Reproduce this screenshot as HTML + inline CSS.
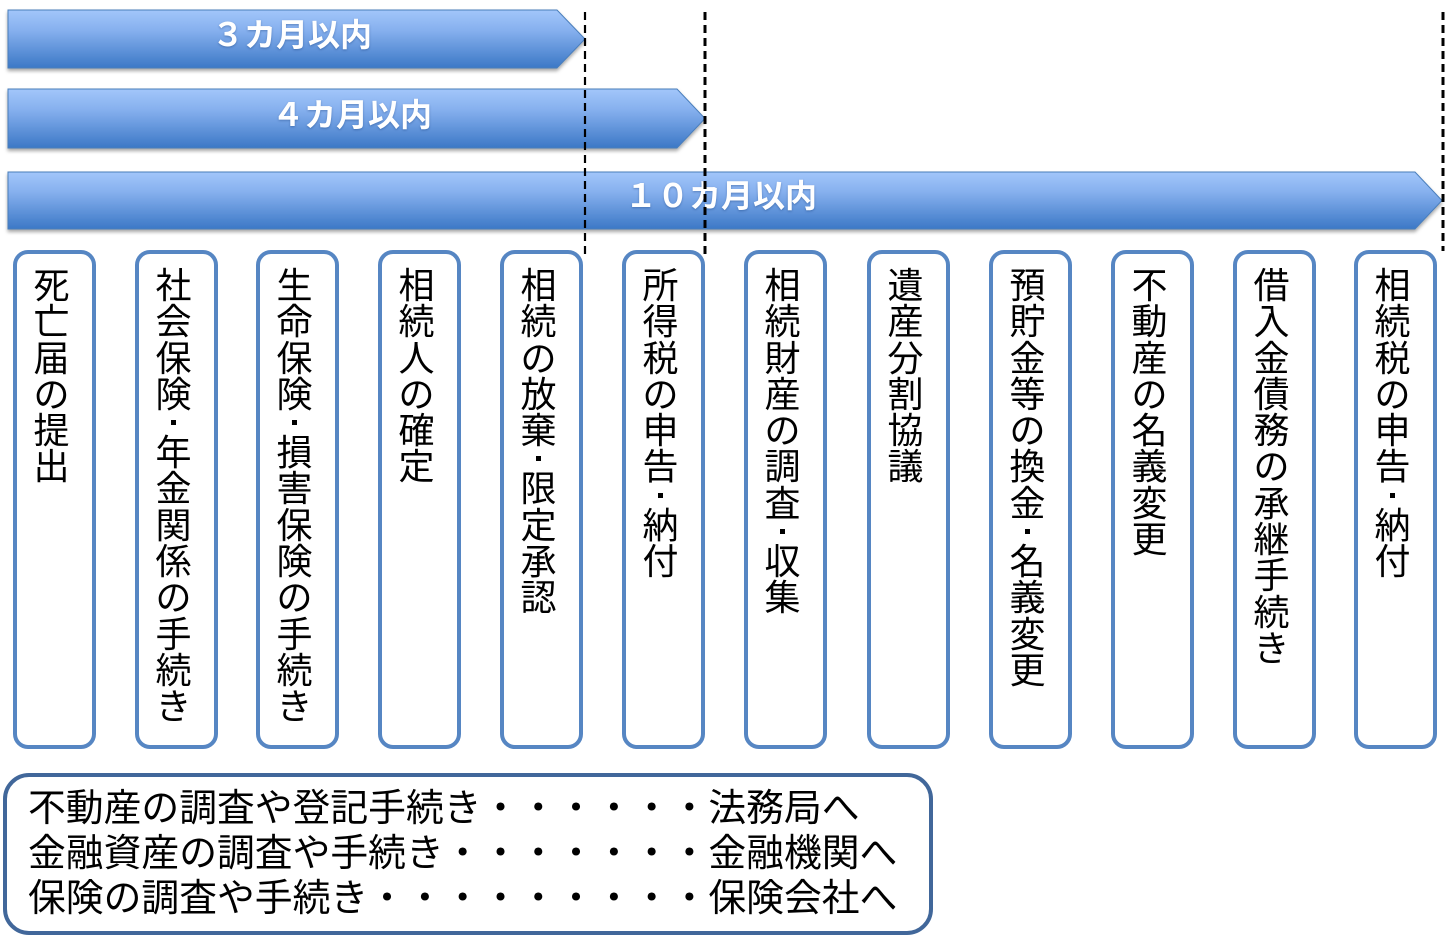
<!DOCTYPE html>
<html>
<head>
<meta charset="utf-8">
<style>
html,body{margin:0;padding:0;background:#fff;}
body{width:1450px;height:943px;position:relative;overflow:hidden;font-family:"Liberation Sans","Noto Sans CJK JP",sans-serif;}
svg.bg{position:absolute;left:0;top:0;}
.at{position:absolute;width:600px;height:32px;line-height:32px;text-align:center;color:#fff;font-weight:bold;font-size:32px;font-family:"Liberation Sans","Noto Sans CJK JP",sans-serif;text-shadow:0 1px 2px rgba(0,40,100,0.35);white-space:nowrap;}
.box{position:absolute;top:250px;width:83px;height:499px;box-sizing:border-box;border:4px solid #5686c3;border-radius:15px;background:#fff;}
.col{position:absolute;top:14px;left:-3px;width:75px;font-size:36px;color:#000;font-family:"Liberation Sans","Noto Sans CJK JP",sans-serif;}
.col div{height:36.3px;line-height:36.3px;text-align:center;}
.col div.d{height:22px;position:relative;}
.col div.d::after{content:"";position:absolute;left:35px;top:7px;width:5px;height:5px;background:#000;}
.note{position:absolute;left:3px;top:773px;width:930px;height:162px;box-sizing:border-box;border:4px solid #41679a;border-radius:26px;background:#fff;}
.ln{position:absolute;left:21px;white-space:nowrap;font-size:37.8px;line-height:45px;height:45px;color:#000;font-family:"Liberation Sans","Noto Sans CJK JP",sans-serif;}
svg.fg{position:absolute;left:0;top:0;pointer-events:none;}
</style>
</head>
<body>
<svg class="bg" width="1450" height="943" viewBox="0 0 1450 943">
  <defs>
    <linearGradient id="g" x1="0" y1="0" x2="0" y2="1">
      <stop offset="0" stop-color="#a2c6fa"/>
      <stop offset="0.35" stop-color="#86b0ee"/>
      <stop offset="1" stop-color="#3c78c6"/>
    </linearGradient>
    <filter id="sh" x="-5%" y="-20%" width="110%" height="150%">
      <feDropShadow dx="0" dy="2.5" stdDeviation="1.8" flood-color="#000" flood-opacity="0.35"/>
    </filter>
  </defs>
  <polygon points="8,10 557,10 585,39 557,68 8,68" fill="url(#g)" stroke="#4a7ebb" stroke-width="1" filter="url(#sh)"/>
  <polygon points="8,89 677,89 705,118.5 677,148 8,148" fill="url(#g)" stroke="#4a7ebb" stroke-width="1" filter="url(#sh)"/>
  <polygon points="8,172 1415,172 1442,200.5 1415,229 8,229" fill="url(#g)" stroke="#4a7ebb" stroke-width="1" filter="url(#sh)"/>
</svg>

<div class="at" style="left:-8px;top:19px;">３カ月以内</div>
<div class="at" style="left:52px;top:99px;">４カ月以内</div>
<div class="at" style="left:421px;top:180px;">１０カ月以内</div>

<div class="box" style="left:13px;"><div class="col"><div>死</div><div>亡</div><div>届</div><div>の</div><div>提</div><div>出</div></div></div>
<div class="box" style="left:135px;"><div class="col"><div>社</div><div>会</div><div>保</div><div>険</div><div class="d"></div><div>年</div><div>金</div><div>関</div><div>係</div><div>の</div><div>手</div><div>続</div><div>き</div></div></div>
<div class="box" style="left:256px;"><div class="col"><div>生</div><div>命</div><div>保</div><div>険</div><div class="d"></div><div>損</div><div>害</div><div>保</div><div>険</div><div>の</div><div>手</div><div>続</div><div>き</div></div></div>
<div class="box" style="left:378px;"><div class="col"><div>相</div><div>続</div><div>人</div><div>の</div><div>確</div><div>定</div></div></div>
<div class="box" style="left:500px;"><div class="col"><div>相</div><div>続</div><div>の</div><div>放</div><div>棄</div><div class="d"></div><div>限</div><div>定</div><div>承</div><div>認</div></div></div>
<div class="box" style="left:622px;"><div class="col"><div>所</div><div>得</div><div>税</div><div>の</div><div>申</div><div>告</div><div class="d"></div><div>納</div><div>付</div></div></div>
<div class="box" style="left:744px;"><div class="col"><div>相</div><div>続</div><div>財</div><div>産</div><div>の</div><div>調</div><div>査</div><div class="d"></div><div>収</div><div>集</div></div></div>
<div class="box" style="left:867px;"><div class="col"><div>遺</div><div>産</div><div>分</div><div>割</div><div>協</div><div>議</div></div></div>
<div class="box" style="left:989px;"><div class="col"><div>預</div><div>貯</div><div>金</div><div>等</div><div>の</div><div>換</div><div>金</div><div class="d"></div><div>名</div><div>義</div><div>変</div><div>更</div></div></div>
<div class="box" style="left:1111px;"><div class="col"><div>不</div><div>動</div><div>産</div><div>の</div><div>名</div><div>義</div><div>変</div><div>更</div></div></div>
<div class="box" style="left:1233px;"><div class="col"><div>借</div><div>入</div><div>金</div><div>債</div><div>務</div><div>の</div><div>承</div><div>継</div><div>手</div><div>続</div><div>き</div></div></div>
<div class="box" style="left:1354px;"><div class="col"><div>相</div><div>続</div><div>税</div><div>の</div><div>申</div><div>告</div><div class="d"></div><div>納</div><div>付</div></div></div>

<div class="note">
  <div class="ln" style="top:10px;">不動産の調査や登記手続き・・・・・・法務局へ</div>
  <div class="ln" style="top:55px;">金融資産の調査や手続き・・・・・・・金融機関へ</div>
  <div class="ln" style="top:100px;">保険の調査や手続き・・・・・・・・・保険会社へ</div>
</div>

<svg class="fg" width="1450" height="943" viewBox="0 0 1450 943">
  <line x1="585" y1="12" x2="585" y2="254" stroke="#000" stroke-width="2.2" stroke-dasharray="8,5"/>
  <line x1="705" y1="12" x2="705" y2="254" stroke="#000" stroke-width="3" stroke-dasharray="8,5"/>
  <line x1="1443" y1="12" x2="1443" y2="251" stroke="#000" stroke-width="3" stroke-dasharray="8,5"/>
</svg>
</body>
</html>
